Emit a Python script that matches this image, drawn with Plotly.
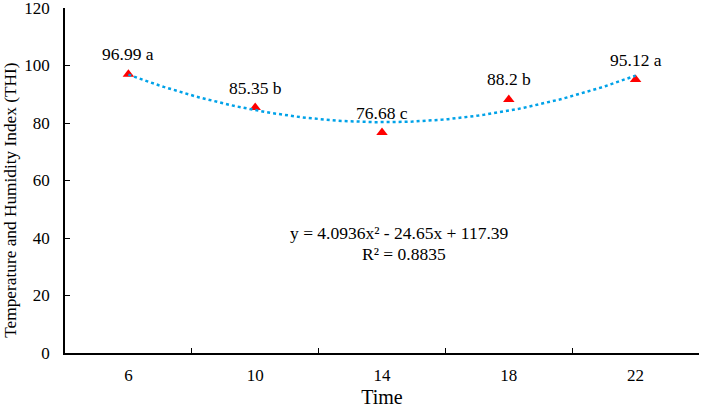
import numpy as np
import plotly.graph_objects as go

times = ["6", "10", "14", "18", "22"]
thi = [96.99, 85.35, 76.68, 88.2, 95.12]
groups = ["a", "b", "c", "b", "a"]

# second order trendline fitted on category index 1..5 (as Excel does)
idx = np.arange(1, len(thi) + 1)
coef = np.polyfit(idx, thi, 2)
xs = np.linspace(1, len(thi), 101)
ys = np.polyval(coef, xs)
pred = np.polyval(coef, idx)
r2 = 1 - np.sum((np.array(thi) - pred) ** 2) / np.sum((np.array(thi) - np.mean(thi)) ** 2)

font = "Liberation Serif"

fig = go.Figure()
fig.add_trace(go.Scatter(x=times, y=thi, mode="markers",
                         marker=dict(symbol="triangle-up", size=10, color="#FF0000"),
                         showlegend=False))
fig.add_trace(go.Scatter(x=xs, y=ys, mode="lines", xaxis="x2",
                         line=dict(color="rgb(0,162,232)", width=2.5, dash="dot"),
                         showlegend=False))

for i, (v, g) in enumerate(zip(thi, groups)):
    fig.add_annotation(x=i, y=v, text=f"{v:g} {g}", showarrow=False,
                       yshift=20, font=dict(family=font, size=17.5, color="black"))

eq1 = f"y = {coef[0]:.4f}x² - {abs(coef[1]):.2f}x + {coef[2]:.2f}"
eq2 = f"R² = {r2:.4f}"
fig.add_annotation(xref="paper", yref="y", x=0.528, y=41.8, text=eq1, showarrow=False,
                   font=dict(family=font, size=17.5, color="black"))
fig.add_annotation(xref="paper", yref="y", x=0.535, y=34.6, text=eq2, showarrow=False,
                   font=dict(family=font, size=17.5, color="black"))

# y axis title, placed like the original (slightly below the plot centre)
fig.add_annotation(xref="paper", yref="y", x=-0.085, y=53, xanchor="center",
                   text="Temperature and Humidity Index (THI)", textangle=-90,
                   showarrow=False, font=dict(family=font, size=17.3, color="black"))

fig.update_layout(
    width=702, height=408,
    margin=dict(l=65, r=3, t=8, b=55),
    paper_bgcolor="white", plot_bgcolor="white",
    font=dict(family=font, size=17, color="black"),
    xaxis=dict(type="category", tickson="boundaries", ticks="inside", ticklen=5,
               tickcolor="black", tickwidth=1.3, showline=True, linecolor="black",
               linewidth=1.5, showgrid=False, zeroline=False, automargin=False,
               ticklabelstandoff=6,
               title=dict(text="Time", standoff=7), range=[-0.5, 4.5]),
    xaxis2=dict(overlaying="x", range=[0.5, 5.5], visible=False),
    yaxis=dict(range=[0, 120], dtick=20, ticks="inside", ticklen=5, tickcolor="black",
               tickwidth=1.3, showline=True, linecolor="black", linewidth=1.5,
               showgrid=False, zeroline=False, automargin=False,
               ticklabelstandoff=10, ticklabeloverflow="allow"),
)

fig.write_html("out.html", config={"displayModeBar": False},
               post_script="document.body.style.margin='0px';")
